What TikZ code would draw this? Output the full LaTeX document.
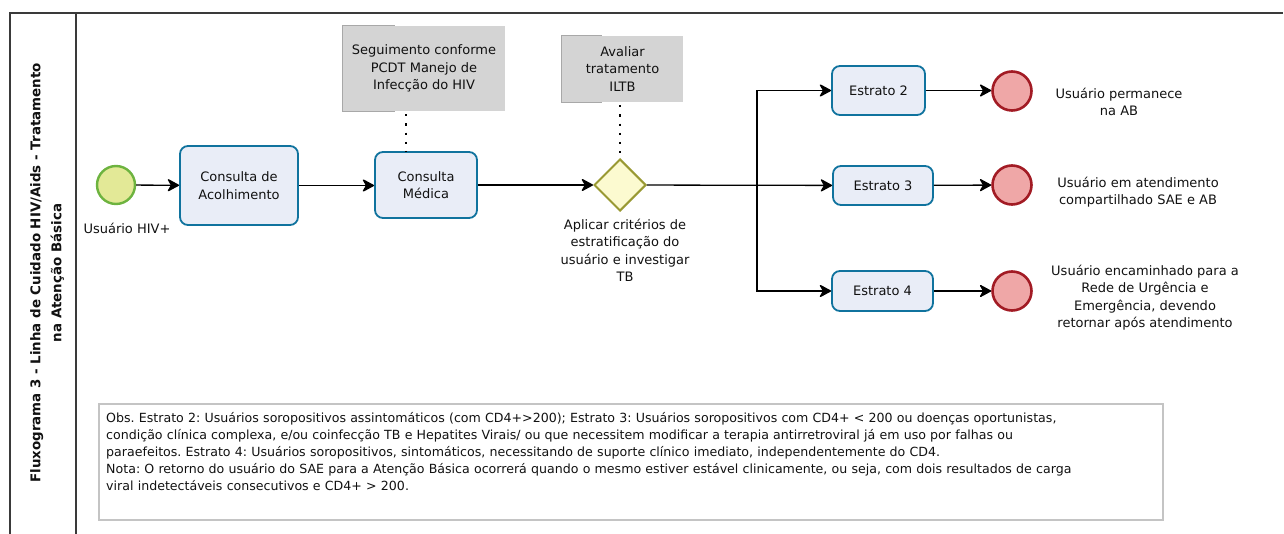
\documentclass[tikz,border=0pt]{standalone}
\usepackage{fontspec}
\setmainfont{DejaVu Sans}
\usetikzlibrary{arrows.meta,shapes.geometric,calc}
\frenchspacing
\definecolor{boxstroke}{HTML}{10739E}
\definecolor{boxfill}{HTML}{E9EDF7}
\definecolor{startfill}{HTML}{E3E997}
\definecolor{startstroke}{HTML}{6DB33F}
\definecolor{diafill}{HTML}{FCFAD0}
\definecolor{diastroke}{HTML}{999933}
\definecolor{endfill}{HTML}{EFA7A7}
\definecolor{endstroke}{HTML}{A21B24}
\definecolor{notefill}{HTML}{D4D4D4}
\definecolor{notebr}{HTML}{A8A8A8}
\definecolor{frame}{HTML}{3A3A3A}
\definecolor{obsborder}{HTML}{C4C4C4}
\definecolor{txt}{HTML}{111111}
\tikzset{
  x=1pt, y=-1pt,
  every node/.style={font=\fontsize{13}{17.5}\selectfont, text=txt},
  taskbox/.style={draw=boxstroke, fill=boxfill, line width=1.8pt, rounded corners=8pt, align=center, inner sep=0pt},
  startev/.style={circle, draw=startstroke, fill=startfill, line width=2.4pt, minimum size=38pt, inner sep=0pt},
  endev/.style={circle, draw=endstroke, fill=endfill, line width=2.6pt, minimum size=39pt, inner sep=0pt},
  gate/.style={diamond, draw=diastroke, fill=diafill, line width=2pt, minimum width=52pt, minimum height=52pt, inner sep=0pt},
  notebox/.style={fill=notefill, align=center, inner sep=0pt},
  plain/.style={align=center, inner sep=0pt},
  arr/.style={line width=1.3pt, draw=black, -{Stealth[length=13pt,width=14pt,inset=4pt,round]}},
  dots/.style={line width=2.2pt, dash pattern=on 2.2pt off 7pt},
}
\begin{document}
\begin{tikzpicture}
\useasboundingbox (0,0) rectangle (1284,534);
% frame
\draw[frame, line width=1.6pt] (10,534) -- (10,13) -- (1283,13);
\draw[frame, line width=1.6pt] (76,13) -- (76,534);
\node[plain, rotate=90, font=\bfseries\fontsize{13.4}{21}\selectfont] (title) at (47,273)
  {Fluxograma 3 - Linha de Cuidado HIV/Aids - Tratamento\\na Atenção Básica};

% nodes
\node[startev] (start) at (116,185) {};
\node[plain] (startlbl) at (127,228) {Usuário HIV+};
\node[taskbox, minimum width=118pt, minimum height=79pt] (acol) at (239,185.5) {Consulta de\\Acolhimento};
\node[taskbox, minimum width=102pt, minimum height=66pt] (med) at (426,185) {Consulta\\Médica};
\node[notebox, minimum width=162pt, minimum height=85pt] (note1) at (424,68.5) {Seguimento conforme\\PCDT Manejo de\\Infecção do HIV};
\draw[notebr, line width=1.2pt] ([xshift=52pt]note1.north west) -- (note1.north west) -- (note1.south west) -- ([xshift=52pt]note1.south west);
\node[notebox, minimum width=121pt, minimum height=66pt] (note2) at (622.5,69) {Avaliar\\tratamento\\ILTB};
\draw[notebr, line width=1.2pt] ([xshift=40pt]note2.north west) -- (note2.north west) -- (note2.south west) -- ([xshift=40pt]note2.south west);
\node[gate] (dia) at (620,185) {};
\node[plain] (dialbl) at (625,250.5) {Aplicar critérios de\\estratificação do\\usuário e investigar\\TB};

\node[taskbox, minimum width=93pt, minimum height=49pt] (e2) at (878.5,90.5) {Estrato 2};
\node[taskbox, minimum width=100pt, minimum height=39pt] (e3) at (883,185.5) {Estrato 3};
\node[taskbox, minimum width=101pt, minimum height=40pt] (e4) at (882.5,291) {Estrato 4};
\node[endev] (r2) at (1012,91) {};
\node[endev] (r3) at (1012,185) {};
\node[endev] (r4) at (1012,291) {};
\node[plain] (t2) at (1119,102) {Usuário permanece\\na AB};
\node[plain] (t3) at (1138,192) {Usuário em atendimento\\compartilhado SAE e AB};
\node[plain] (t4) at (1145,297.5) {Usuário encaminhado para a\\Rede de Urgência e\\Emergência, devendo\\retornar após atendimento};

% connectors
\draw[arr] (start) -- (acol);
\draw[arr] (acol) -- (med.west |- acol);
\draw[arr] (med) -- (dia);
\coordinate (br) at (757,185);
\draw[arr] (dia) -- (e3);
\draw[arr] (br) |- (e2.west);
\draw[arr] (br) |- (e4.west);
\draw[arr] (e2) -- (r2.west |- e2);
\draw[arr] (e3) -- (r3);
\draw[arr] (e4) -- (r4);
\draw[dots] ([xshift=-18pt]note1.south) ++(0,3) -- ([xshift=-20pt]med.north);
\draw[dots] (note2.south) ++(-2.5,3) -- (dia.north);

% observation box
\node[draw=obsborder, line width=1.4pt, minimum width=1064pt, minimum height=116pt, inner sep=0pt] (obs) at (631,462) {};
\node[anchor=north west, align=left, inner sep=0pt, text width=1060pt, font=\fontsize{12.6}{17}\selectfont] (obstxt) at (106,412)
  {Obs. Estrato 2: Usuários soropositivos assintomáticos (com CD4+>200); Estrato 3: Usuários soropositivos com CD4+ < 200 ou doenças oportunistas,\\
   condição clínica complexa, e/ou coinfecção TB e Hepatites Virais/ ou que necessitem modificar a terapia antirretroviral já em uso por falhas ou\\
   paraefeitos. Estrato 4: Usuários soropositivos, sintomáticos, necessitando de suporte clínico imediato, independentemente do CD4.\\
   Nota: O retorno do usuário do SAE para a Atenção Básica ocorrerá quando o mesmo estiver estável clinicamente, ou seja, com dois resultados de carga\\
   viral indetectáveis consecutivos e CD4+ > 200.};
\end{tikzpicture}
\end{document}
